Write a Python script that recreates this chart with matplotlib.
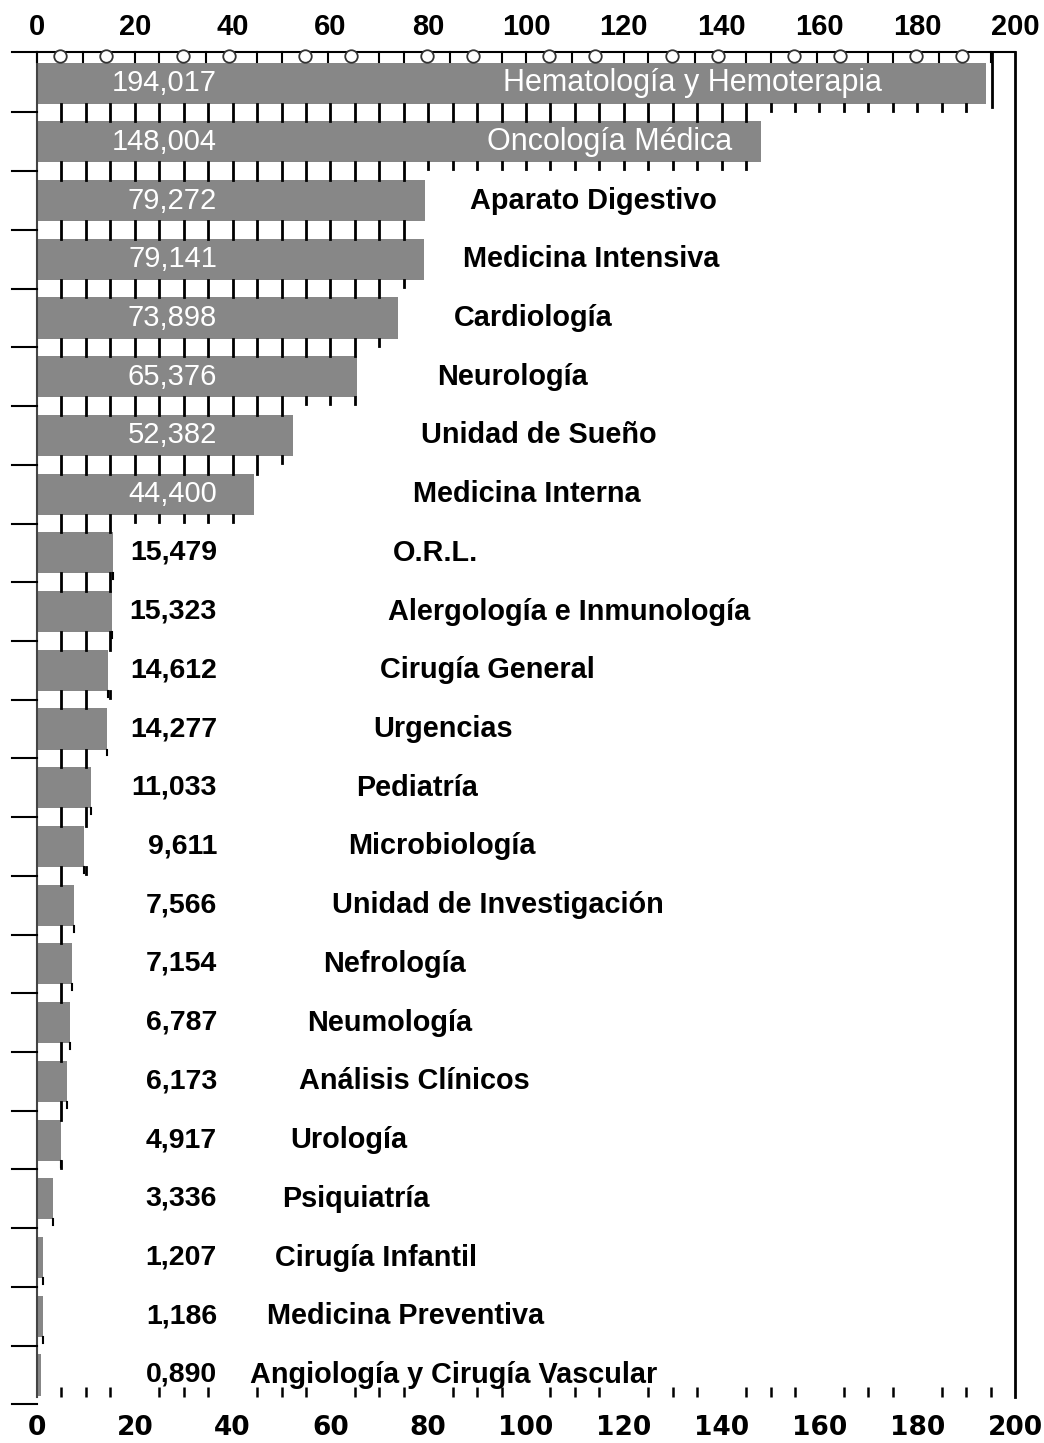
import matplotlib.pyplot as plt
import numpy as np

categories = ["Hematología y Hemoterapia", "Oncología Médica", "Aparato Digestivo",
              "Medicina Intensiva", "Cardiología", "Neurología", "Unidad de Sueño",
              "Medicina Interna", "O.R.L.", "Alergología e Inmunología", "Cirugía General",
              "Urgencias", "Pediatría", "Microbiología", "Unidad de Investigación",
              "Nefrología", "Neumología", "Análisis Clínicos", "Urología", "Psiquiatría",
              "Cirugía Infantil", "Medicina Preventiva", "Angiología y Cirugía Vascular"]
values = [194.017, 148.004, 79.272, 79.141, 73.898, 65.376, 52.382, 44.400, 15.479,
          15.323, 14.612, 14.277, 11.033, 9.611, 7.566, 7.154, 6.787, 6.173, 4.917,
          3.336, 1.207, 1.186, 0.890]
value_labels = ["194,017", "148,004", "79,272", "79,141", "73,898", "65,376", "52,382",
                "44,400", "15,479", "15,323", "14,612", "14,277", "11,033", "9,611",
                "7,566", "7,154", "6,787", "6,173", "4,917", "3,336", "1,207", "1,186",
                "0,890"]
xticks = [0, 20, 40, 60, 80, 100, 120, 140, 160, 180, 200]

# layout (x of category label left edge, in axis units)
label_x = [95.3, 92.0, 88.5, 87.1, 85.3, 81.8, 78.5, 76.9, 72.8, 71.8, 70.1, 68.7,
           65.2, 63.6, 60.3, 58.5, 55.2, 53.6, 51.7, 50.1, 48.7, 47.0, 43.6]

bar_color = '#878787'
n = len(categories)
y = np.arange(n)
top, bottom = -0.53, n - 1 + 0.375
bh = 0.70

fig = plt.figure(figsize=(10.44, 14.43), dpi=100)
ax = fig.add_axes([37 / 1044, 1 - 1397 / 1443, 978 / 1044, (1397 - 52) / 1443])
ax.barh(y, values, height=bh, color=bar_color, zorder=2)
ax.set_xlim(0, 200)
ax.set_ylim(bottom, top)
for s in ax.spines.values():
    s.set_visible(False)
ax.set_yticks([])

kw = dict(clip_on=False, color='black', zorder=3)
# frame
ax.plot([-5.1, 200], [top, top], lw=1.5, **kw)
ax.plot([200, 200], [top, bottom], lw=2, **kw)
ax.plot([0, 0], [top, bottom], lw=1.5, color='#444444', clip_on=False, zorder=3)
ax.plot([195.3, 195.3], [top, 0 + bh / 2 + 0.06], lw=2, **kw)
for i in range(n):
    ax.plot([-5.1, 0], [i + 0.5, i + 0.5], lw=1.5, **kw)

# top axis decorations
top_ticks = [t + o for t in range(0, 200, 25) for o in (0, 9.5, 20)]
for t in top_ticks:
    ax.plot([t, t], [top, top + 0.17], lw=1.5, **kw)
circ_x = [c + o for c in range(0, 200, 25) for o in (4.8, 14.2)]
ax.plot(circ_x, [top + 0.06] * len(circ_x), 'o', ms=9, mfc='white', mec='#333333',
        mew=1.3, clip_on=False, zorder=4)

# tick marks in the gaps between bars
g0 = bh / 2
for i in range(n - 1):
    upper, lower = values[i], values[i + 1]
    for t in np.arange(5, upper + 0.5, 5):
        if t <= lower + 0.6:
            ax.plot([t, t], [i + g0, i + 1 - g0], lw=2, **kw)
        else:
            ax.plot([t, t], [i + g0, i + g0 + 0.12], lw=2, **kw)
# small bars end ticks
for i in range(8, n - 1):
    ax.plot([values[i], values[i]], [i + g0, i + g0 + 0.1], lw=1.5, **kw)

# labels
for i in range(n):
    white = i < 8
    ax.text(36.8, i, value_labels[i], ha='right', va='center',
            fontsize=21 if white else 20.5,
            color='white' if white else 'black',
            fontweight='normal' if white else 'bold', family='Liberation Sans', zorder=5)
    ax.text(label_x[i], i, categories[i], ha='left', va='center',
            fontsize=22 if i < 2 else 20.8,
            color='white' if i < 2 else 'black',
            fontweight='normal' if i < 2 else 'bold', family='Liberation Sans', zorder=5)

# bottom axis
ax.set_xticks(xticks)
ax.set_xticks(np.arange(5, 200, 5), minor=True)
ax.tick_params(axis='x', which='major', length=0, pad=13, labelsize=19)
ax.tick_params(axis='x', which='minor', length=7, width=1.8, direction='in')
for lab in ax.get_xticklabels():
    lab.set_family('DejaVu Sans')
    lab.set_fontweight('bold')

sec = ax.secondary_xaxis('top')
sec.set_xticks(xticks)
sec.tick_params(length=0, pad=8, labelsize=21)
for lab in sec.get_xticklabels():
    lab.set_family('Liberation Sans')
    lab.set_fontweight('bold')
sec.spines['top'].set_visible(False)

fig.savefig('out.png', dpi=100)
